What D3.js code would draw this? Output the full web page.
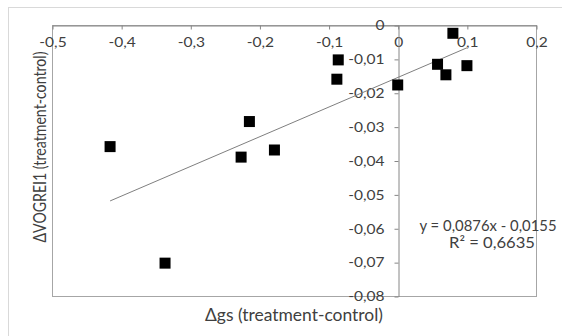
<!DOCTYPE html>
<html>
<head>
<meta charset="utf-8">
<script src="https://cdn.jsdelivr.net/npm/d3@7"></script>
<style>
  html, body { margin: 0; padding: 0; background: #fff; }
  svg text { font-family: Lato, "Noto Sans", sans-serif; fill: #404040; }
</style>
</head>
<body>
<svg id="chart" width="562" height="336"></svg>
<script>
// Change in stomatal conductance vs change in VOGREI1 (treatment minus control)
const dGs      = [-0.416, -0.3365, -0.2145, -0.2265, -0.1783, -0.088, -0.086, 0.000, 0.0576, 0.0697, 0.1001, 0.0798];
const dVogrei1 = [-0.0359, -0.0703, -0.0285, -0.0390, -0.0369, -0.0160, -0.0103, -0.0177, -0.0116, -0.0147, -0.0120, -0.00245];

const xTicks = [-0.5, -0.4, -0.3, -0.2, -0.1, 0, 0.1, 0.2];
const yTicks = [0, -0.01, -0.02, -0.03, -0.04, -0.05, -0.06, -0.07, -0.08];

// Linear trendline coefficients
const slope = 0.0876;
const intercept = -0.0155;
const rSquared = 0.6635;

const xTitle = "Δgs (treatment-control)";
const yTitle = "ΔVOGREI1 (treatment-control)";

const svg = d3.select("#chart");
const plot = { left: 52, right: 536, top: 25, bottom: 296 };

const x = d3.scaleLinear().domain([-0.5, 0.2]).range([plot.left, plot.right]);
const y = d3.scaleLinear().domain([-0.08, 0]).range([plot.bottom, plot.top]);

const comma = v => String(v).replace(".", ",");
const fmt = v => (v === 0 ? "0" : comma(+v.toFixed(2)));

// Widen a text's glyphs horizontally by a factor (the labels use a broad face)
function widen(sel, k) {
  sel.each(function () {
    const w = this.getComputedTextLength();
    d3.select(this).attr("textLength", w * k).attr("lengthAdjust", "spacingAndGlyphs");
  });
}
// Stretch a single text to a given rendered width
function fitTo(sel, width) {
  sel.attr("textLength", width).attr("lengthAdjust", "spacingAndGlyphs");
}

// Outer chart frame
svg.append("rect")
  .attr("x", 8.5).attr("y", 7.5)
  .attr("width", 600).attr("height", 400)
  .attr("fill", "none").attr("stroke", "#d9d9d9").attr("stroke-width", 1);

// Plot area frame
svg.append("rect")
  .attr("x", plot.left + 0.5).attr("y", plot.top + 0.5)
  .attr("width", plot.right - plot.left).attr("height", plot.bottom - plot.top)
  .attr("fill", "none").attr("stroke", "#a6a6a6").attr("stroke-width", 1);

// Horizontal axis crossing at y = 0
const xAxis = svg.append("g")
  .attr("transform", `translate(0.5,${Math.round(y(0)) + 0.5})`)
  .call(d3.axisBottom(x).tickValues(xTicks).tickFormat(fmt)
    .tickSizeInner(4).tickSizeOuter(0).tickPadding(8));

// Vertical axis crossing at x = 0
const yAxis = svg.append("g")
  .attr("transform", `translate(${Math.round(x(0)) + 0.5},0.5)`)
  .call(d3.axisLeft(y).tickValues(yTicks).tickFormat(fmt)
    .tickSizeInner(4).tickSizeOuter(0).tickPadding(10));

[xAxis, yAxis].forEach(g => {
  g.select(".domain").attr("stroke", "#868686");
  g.selectAll(".tick line").attr("stroke", "#868686");
  g.selectAll(".tick text").attr("font-size", 13.5).attr("fill", "#404040")
    .style("font-family", "Lato, 'Noto Sans', sans-serif");
});
widen(xAxis.selectAll(".tick text"), 1.15);
widen(yAxis.selectAll(".tick text"), 1.15);

// Trendline over the range of the data
const [xMin, xMax] = d3.extent(dGs);
svg.append("line")
  .attr("x1", x(xMin)).attr("y1", y(slope * xMin + intercept))
  .attr("x2", x(xMax)).attr("y2", y(slope * xMax + intercept))
  .attr("stroke", "#7f7f7f").attr("stroke-width", 1);

// Square markers
const size = 11;
svg.append("g").selectAll("rect")
  .data(d3.zip(dGs, dVogrei1))
  .join("rect")
  .attr("x", d => x(d[0]) - size / 2)
  .attr("y", d => y(d[1]) - size / 2)
  .attr("width", size).attr("height", size)
  .attr("fill", "#000");

// Trendline equation
svg.append("text")
  .attr("x", 488).attr("y", 230.5)
  .attr("text-anchor", "middle")
  .attr("font-size", 15)
  .text(`y = ${comma(slope)}x - ${comma(-intercept)}`)
  .call(fitTo, 137);
svg.append("text")
  .attr("x", 492).attr("y", 248)
  .attr("text-anchor", "middle")
  .attr("font-size", 15)
  .text(`R² = ${comma(rSquared)}`)
  .call(fitTo, 86);

// Axis titles
svg.append("text")
  .attr("x", 294).attr("y", 321)
  .attr("text-anchor", "middle")
  .attr("font-size", 16.5)
  .text(xTitle)
  .call(fitTo, 178);

svg.append("text")
  .attr("transform", "translate(46,147) rotate(-90)")
  .attr("text-anchor", "middle")
  .attr("font-size", 16.5)
  .text(yTitle)
  .call(fitTo, 191);
</script>
</body>
</html>
